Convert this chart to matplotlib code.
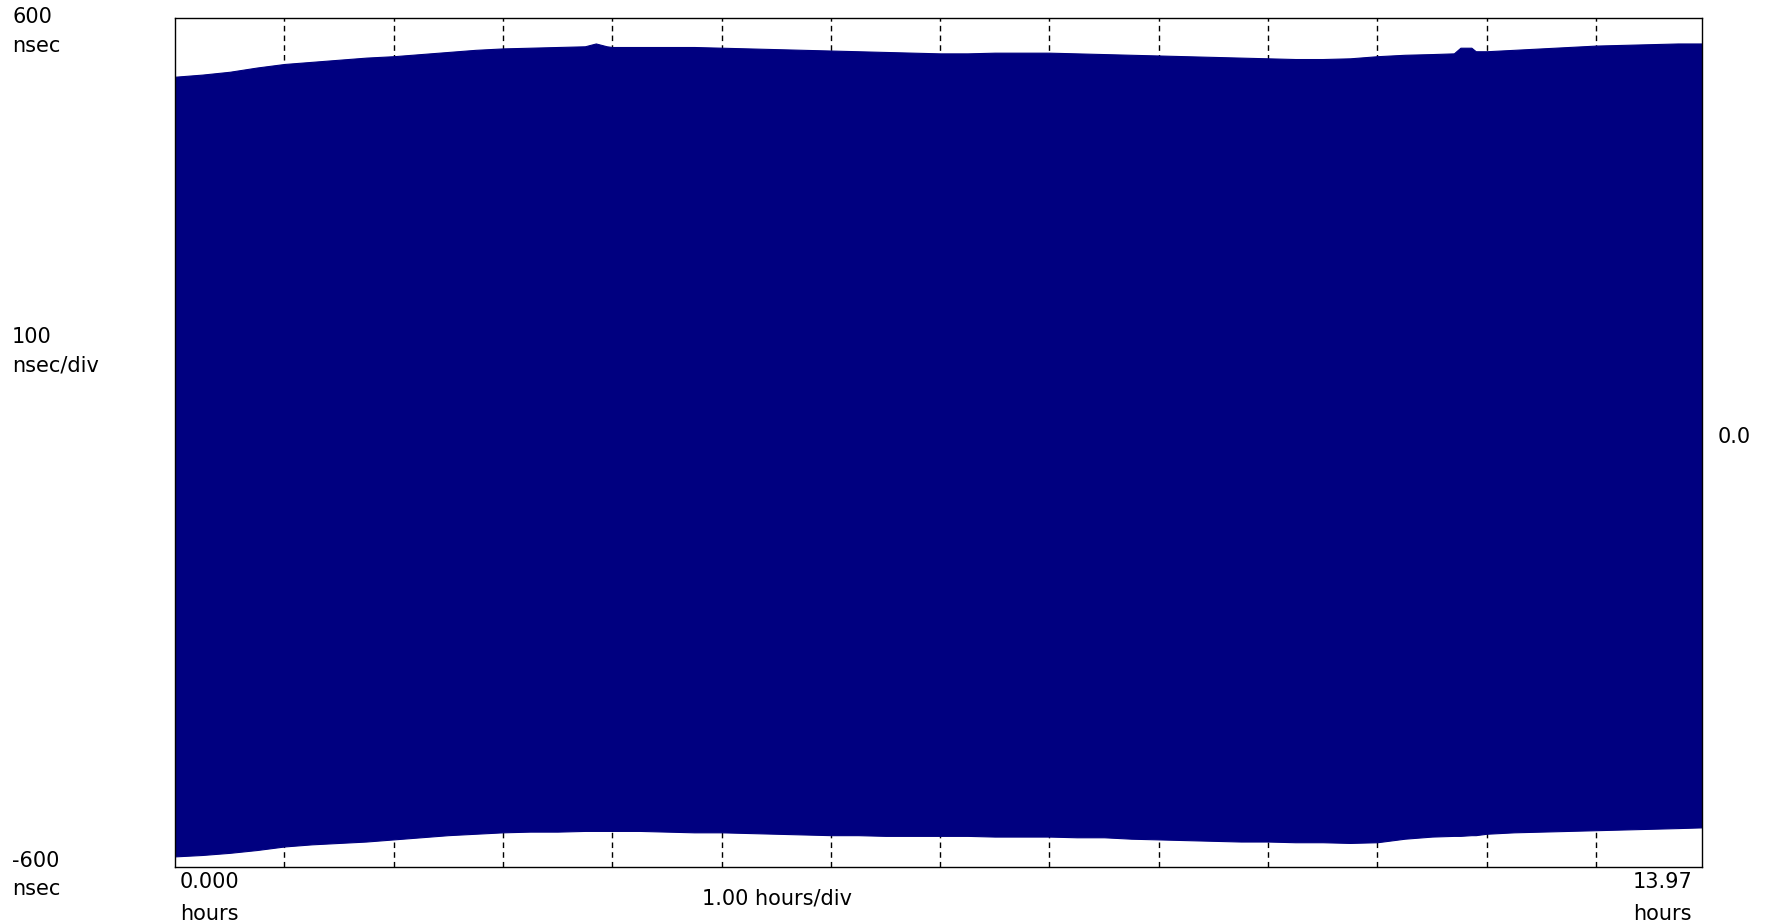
import matplotlib
matplotlib.use("Agg")
import matplotlib.pyplot as plt

# Time axis (hours) and the min/max envelope of the phase record (nsec)
hours = [0.0, 0.25, 0.5, 0.75, 1.0, 1.25, 1.5, 1.75, 2.0, 2.25, 2.5, 2.75,
         3.0, 3.25, 3.5, 3.75, 3.85, 3.95, 4.0, 4.25, 4.5, 4.75, 5.0, 5.25,
         5.5, 5.75, 6.0, 6.25, 6.5, 6.75, 7.0, 7.25, 7.5, 7.75, 8.0, 8.25,
         8.5, 8.75, 9.0, 9.25, 9.5, 9.75, 10.0, 10.25, 10.5, 10.75, 11.0,
         11.25, 11.5, 11.7, 11.76, 11.86, 11.9, 12.0, 12.25, 12.5, 12.75,
         13.0, 13.25, 13.5, 13.75, 13.97]

upper_ns = [517, 520, 524, 530, 535, 538, 541, 544, 546, 549, 552, 555,
            557, 558, 559, 560, 564, 560, 559, 559, 559, 559, 558, 557,
            556, 555, 554, 553, 552, 551, 550, 550, 551, 551, 551, 550,
            549, 548, 547, 546, 545, 544, 543, 542, 542, 543, 546,
            548, 549, 550, 558, 558, 553, 553, 555, 557, 559,
            561, 562, 563, 564, 564]

lower_ns = [-585, -583, -580, -576, -571, -568, -566, -564, -561, -558, -555, -553,
            -551, -550, -550, -549, -549, -549, -549, -549, -550, -551, -551, -552,
            -553, -554, -555, -555, -556, -556, -556, -556, -557, -557, -557, -558,
            -558, -560, -561, -562, -563, -564, -564, -565, -565, -566, -565,
            -560, -557, -556, -556, -555, -555, -553, -551, -550, -549,
            -548, -547, -546, -545, -544]

x_span = 13.97
grid_hours = list(range(1, 14))

y_top_label = ["600", "nsec"]
y_mid_label = ["100", "nsec/div"]
y_bot_label = ["-600", "nsec"]
x_left_label = ["0.000", "hours"]
x_right_label = ["13.97", "hours"]
x_mid_label = "1.00 hours/div"
ref_label = "0.0"

W, H = 1766, 923
fig = plt.figure(figsize=(W / 100, H / 100), dpi=100)
fig.patch.set_facecolor("white")

ax_l, ax_r, ax_t, ax_b = 175, 1702, 18, 867
ax = fig.add_axes([ax_l / W, 1 - ax_b / H, (ax_r - ax_l) / W, (ax_b - ax_t) / H])
ax.set_xlim(0, x_span)
ax.set_ylim(-600, 600)
ax.set_xticks([])
ax.set_yticks([])
for s in ax.spines.values():
    s.set_color("black")
    s.set_linewidth(1.0)
    s.set_zorder(5)

for h in grid_hours:
    ax.axvline(h, color="black", lw=1.0, ls=(0, (4, 3)), zorder=1)

navy = "#000080"
ax.fill_between(hours, lower_ns, upper_ns, facecolor=navy, edgecolor=navy,
                lw=0.8, zorder=2)

fs = 15
font = "DejaVu Sans"


def put(x, y, s, ha="left"):
    fig.text(x / W, 1 - y / H, s, ha=ha, va="baseline", fontsize=fs,
             family=font, color="black")


put(12, 23, y_top_label[0])
put(12, 52, y_top_label[1])
put(12, 343, y_mid_label[0])
put(12, 371, y_mid_label[1])
put(12, 867, y_bot_label[0])
put(12, 895, y_bot_label[1])
put(180, 888, x_left_label[0])
put(180, 920, x_left_label[1])
put(1692, 888, x_right_label[0], ha="right")
put(1692, 920, x_right_label[1], ha="right")
put(702, 905, x_mid_label)
put(1718, 443, ref_label)

fig.savefig("out.png", dpi=100, facecolor="white")
